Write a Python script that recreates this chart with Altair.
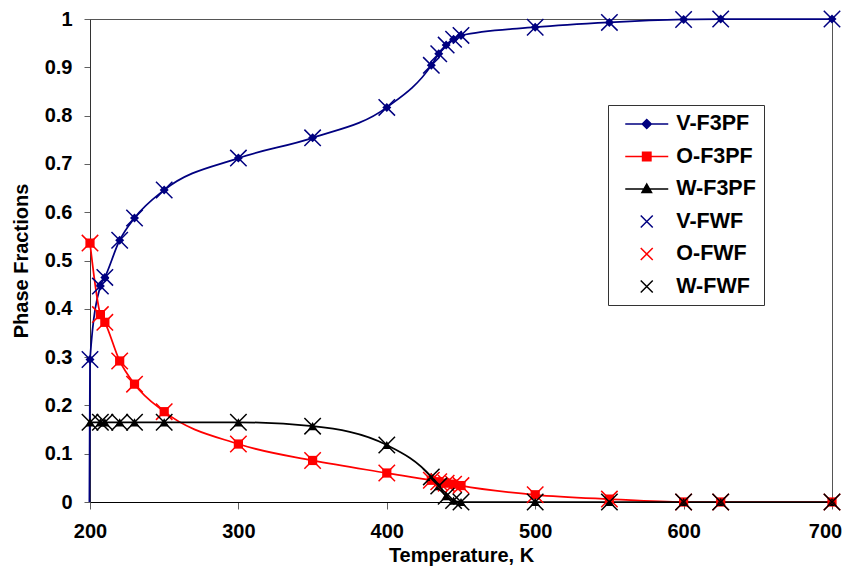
import altair as alt
import pandas as pd

# ---- data ----
temps = [200, 207, 210, 220, 230, 250, 300, 350, 400, 430, 435, 440, 445, 450, 500, 550, 600, 625, 700]

v_f3pf = [0.295, 0.447, 0.465, 0.542, 0.588, 0.646, 0.712, 0.754, 0.817, 0.904, 0.928, 0.946, 0.958, 0.966, 0.983, 0.993, 0.999, 1.0, 1.0]
o_f3pf = [0.536, 0.388, 0.372, 0.292, 0.244, 0.187, 0.120, 0.086, 0.060, 0.045, 0.042, 0.039, 0.037, 0.034, 0.015, 0.006, 0.0, 0.0, 0.0]
w_f3pf = [0.165, 0.165, 0.165, 0.165, 0.165, 0.165, 0.165, 0.157, 0.118, 0.052, 0.033, 0.012, 0.003, 0.0, 0.0, 0.0, 0.0, 0.0, 0.0]

v_fwf = [0.295, 0.447, 0.465, 0.542, 0.588, 0.646, 0.712, 0.754, 0.817, 0.904, 0.928, 0.946, 0.958, 0.966, 0.983, 0.993, 0.999, 1.0, 1.0]
o_fwf = [0.536, 0.388, 0.372, 0.292, 0.244, 0.187, 0.120, 0.086, 0.060, 0.045, 0.042, 0.039, 0.037, 0.034, 0.015, 0.006, 0.0, 0.0, 0.0]
w_fwf = [0.165, 0.165, 0.165, 0.165, 0.165, 0.165, 0.165, 0.157, 0.118, 0.052, 0.033, 0.012, 0.003, 0.0, 0.0, 0.0, 0.0, 0.0, 0.0]

# vapour curve of F3PF starts from zero just at the dew point
v_start_temp = [199.6]
v_start_val = [0.0]

series_names = ["V-F3PF", "O-F3PF", "W-F3PF", "V-FWF", "O-FWF", "W-FWF"]
series_colors = ["#000080", "#FF0000", "#000000", "#000080", "#FF0000", "#000000"]

x_ticks = [200, 300, 400, 500, 600, 700]
y_ticks = [0, 0.1, 0.2, 0.3, 0.4, 0.5, 0.6, 0.7, 0.8, 0.9, 1.0]

FONT = "Liberation Sans"

# ---- scales / axes ----
xscale = alt.Scale(domain=[200, 700], nice=False, zero=False)
yscale = alt.Scale(domain=[0, 1], nice=False)

xaxis = alt.Axis(values=x_ticks, title="Temperature, K", grid=False, tickSize=7,
                 tickColor="#606060", domainColor="#000000", labelFont=FONT,
                 labelFontSize=20, labelFontWeight="bold", labelColor="black",
                 titleFont=FONT, titleFontSize=20, titleFontWeight="bold",
                 titleColor="black", labelPadding=12, titlePadding=4,
                 labelFlush=False, labelOverlap=False,
                 labelOffset={"condition": {"test": "datum.value >= 700", "value": -7}, "value": 0})
yaxis = alt.Axis(values=y_ticks, format="~g", title="Phase Fractions", grid=False,
                 tickSize=6, tickColor="#606060", domainColor="#333333",
                 labelFont=FONT, labelFontSize=20, labelFontWeight="bold",
                 labelColor="black", titleFont=FONT, titleFontSize=20,
                 titleFontWeight="bold", titleColor="black", labelPadding=12,
                 titlePadding=13, labelOverlap=False)

X = alt.X("T:Q", scale=xscale, axis=xaxis)
Y = alt.Y("value:Q", scale=yscale, axis=yaxis)

def frame(ts, vals):
    return pd.DataFrame({"T": ts, "value": vals})

layers = []

# F3PF lines and markers
f3pf = [(v_f3pf, "#000080", "diamond", 81, v_start_temp, v_start_val),
        (o_f3pf, "#FF0000", "square", 85, [], []),
        (w_f3pf, "#000000", "triangle-up", 90, [], [])]
for vals, col, shp, sz, st, sv in f3pf:
    layers.append(alt.Chart(frame(st + temps, sv + vals)).mark_line(
        color=col, strokeWidth=1.75, interpolate="monotone").encode(x=X, y=Y))
for vals, col, shp, sz, st, sv in f3pf:
    layers.append(alt.Chart(frame(temps, vals)).mark_point(
        shape=shp, filled=True, size=sz, color=col, opacity=1).encode(x=X, y=Y))

# FWF cross markers
XPATH = "M-1,-1L1,1M-1,1L1,-1"
for vals, col in [(v_fwf, "#000080"), (o_fwf, "#FF0000"), (w_fwf, "#000000")]:
    layers.append(alt.Chart(frame(temps, vals)).mark_point(
        shape=XPATH, filled=False, size=270, color=col, strokeWidth=1.5,
        opacity=1).encode(x=X, y=Y))

# legend layer (its points lie outside the x domain and are clipped away)
legend_paths = [
    "M-2.15,0L2.15,0M0,-0.45L0.45,0L0,0.45L-0.45,0Z",
    "M-2.15,0L2.15,0M-0.42,-0.42L0.42,-0.42L0.42,0.42L-0.42,0.42Z",
    "M-2.15,0L2.15,0M0,-0.5L0.48,0.36L-0.48,0.36Z",
    "M-0.6,-0.6L0.6,0.6M-0.6,0.6L0.6,-0.6",
    "M-0.6,-0.6L0.6,0.6M-0.6,0.6L0.6,-0.6",
    "M-0.6,-0.6L0.6,0.6M-0.6,0.6L0.6,-0.6",
]
leg = alt.Legend(title=None, orient="none", legendX=518, legendY=86, padding=8,
                 symbolOffset=19.75, labelOffset=18.5, rowPadding=10.5,
                 symbolSize=400, symbolStrokeWidth=1.5, labelFont=FONT,
                 labelFontWeight="bold", labelFontSize=21.5, labelColor="black",
                 strokeColor="#333333", fillColor="white", symbolOpacity=1)
leg_df = pd.DataFrame({"series": series_names, "T": [100] * 6, "value": [0.5] * 6})
leg_scale_col = alt.Scale(domain=series_names, range=series_colors)
layers.append(alt.Chart(leg_df).mark_point(filled=True, clip=True, opacity=1, strokeWidth=1.5).encode(
    x=X, y=Y,
    fill=alt.Fill("series:N", scale=leg_scale_col, legend=leg),
    stroke=alt.Stroke("series:N", scale=leg_scale_col, legend=leg),
    shape=alt.Shape("series:N", scale=alt.Scale(domain=series_names, range=legend_paths), legend=leg),
))

chart = alt.layer(*layers).properties(
    width=742, height=483,
    padding={"left": 82, "top": 11, "right": 10, "bottom": 66},
    autosize="none",
).configure_view(stroke="#555555", strokeWidth=1)

chart.save("out.html", embed_options={"renderer": "svg", "actions": False})
